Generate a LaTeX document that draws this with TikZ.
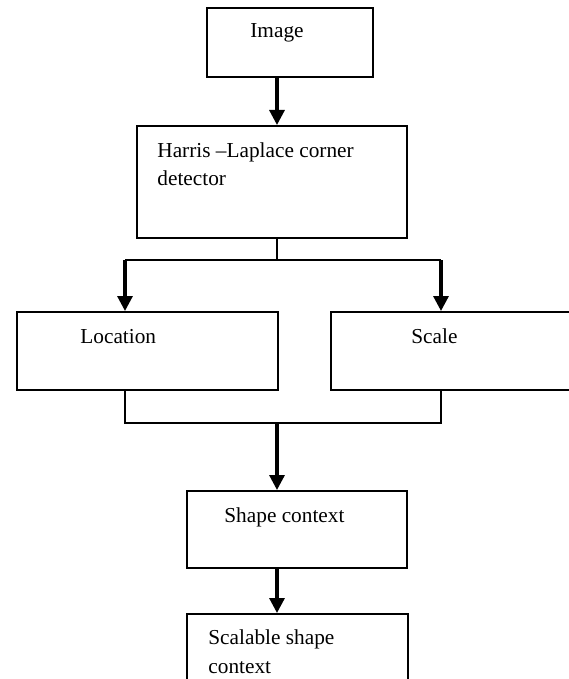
\documentclass[tikz,border=0pt]{standalone}
\usepackage{fontspec}
\setmainfont{Liberation Serif}
\usetikzlibrary{arrows.meta}

\begin{document}
\begin{tikzpicture}[
    x=0.5pt,
    y=-0.5pt,
    stagebox/.style={
        draw=black,
        line width=1pt,
        rectangle,
        inner sep=0pt
    },
    stagetext/.style={
        inner sep=0pt,
        anchor=base west,
        align=left,
        font=\fontsize{10.65}{14.25}\selectfont
    },
    flowline/.style={
        draw=black,
        line width=1pt
    },
    flowarrow/.style={
        draw=black,
        line width=1.6pt,
        -{Triangle[length=7.5pt,width=7.5pt]}
    }
]
\useasboundingbox (0,0) rectangle (568,679);

% Boxes
\node[stagebox,minimum width=83pt,minimum height=34.5pt] (img) at (290,42.5) {};
\node[stagebox,minimum width=135pt,minimum height=56pt] (harris) at (272,182) {};
\node[stagebox,minimum width=130.5pt,minimum height=39pt] (loc) at (147.5,351) {};
\node[stagebox,minimum width=120.5pt,minimum height=39pt] (scale) at (451.5,351) {};
\node[stagebox,minimum width=110pt,minimum height=38.5pt] (shape) at (297,529.5) {};
\node[stagebox,minimum width=110.5pt,minimum height=38pt] (scal) at (297.5,652) {};

% Texts (base of the last line)
\node[stagetext] (imgtext) at (250,38) {Image};
\node[stagetext] (harristext) at (157,186) {Harris –Laplace corner\\detector};
\node[stagetext] (loctext) at (80,343) {Location};
\node[stagetext] (scaletext) at (411,343) {Scale};
\node[stagetext] (shapetext) at (224,522) {Shape context};
\node[stagetext] (scaltext) at (208,673) {Scalable shape\\context};

% Junctions
\coordinate (spine) at (277,0);
\coordinate (split) at (277,260);
\coordinate (locdrop) at (125,260);
\coordinate (scaledrop) at (441,260);
\coordinate (merge) at (277,423);

% Connectors
\draw[flowarrow] (img.south -| spine) -- (harris.north -| spine);
\draw[flowline] (harris.south -| split) -- (split);
\draw[flowline] (locdrop) -- (scaledrop);
\draw[flowarrow] (locdrop) -- (loc.north -| locdrop);
\draw[flowarrow] (scaledrop) -- (scale.north -| scaledrop);
\draw[flowline] (loc.south -| locdrop) -- (locdrop |- merge)
    -- (scaledrop |- merge) -- (scale.south -| scaledrop);
\draw[flowarrow] (merge) -- (shape.north -| merge);
\draw[flowarrow] (shape.south -| merge) -- (scal.north -| merge);

\end{tikzpicture}
\end{document}
